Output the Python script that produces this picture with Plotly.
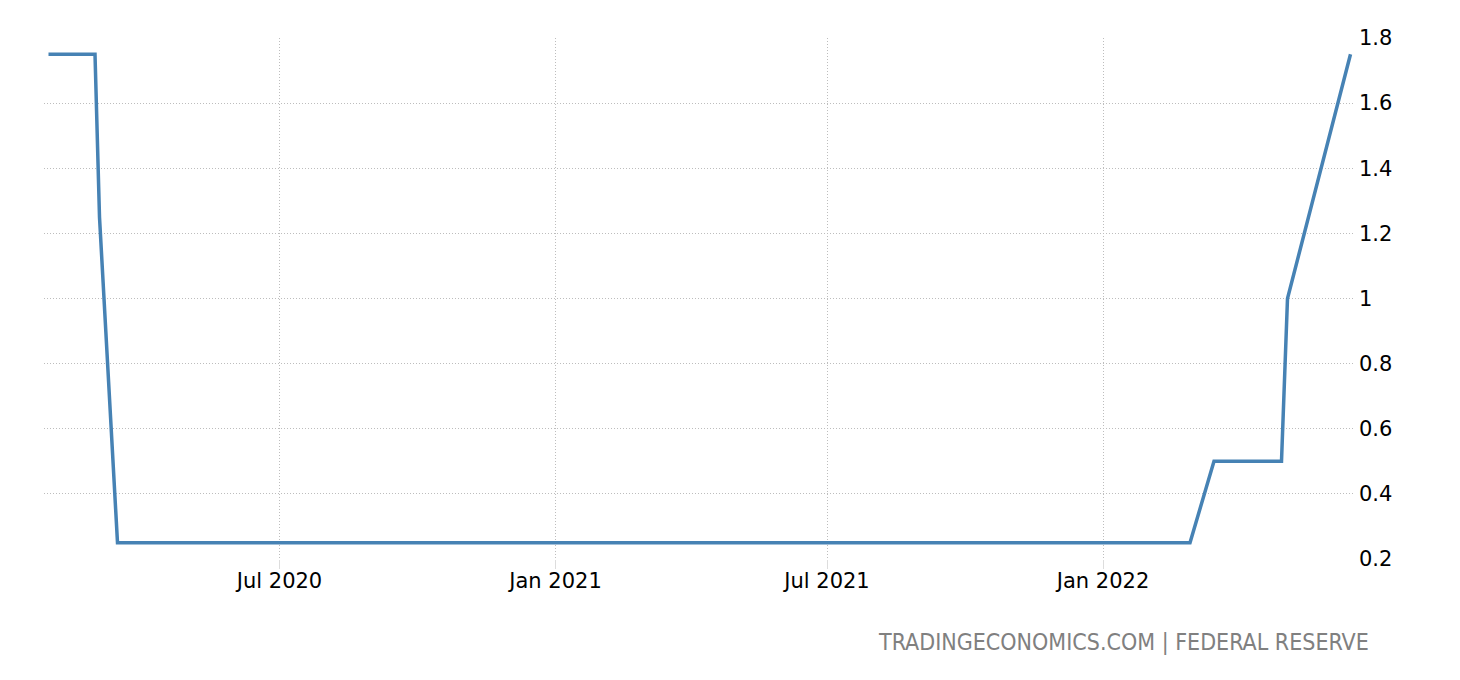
import plotly.graph_objects as go

dates = ["2020-01-29", "2020-02-29", "2020-03-03", "2020-03-15", "2022-02-28",
         "2022-03-16", "2022-04-30", "2022-05-04", "2022-06-15"]
rates = [1.75, 1.75, 1.25, 0.25, 0.25, 0.50, 0.50, 1.00, 1.75]

tick_dates = ["2020-07-01", "2021-01-01", "2021-07-01", "2022-01-01"]
tick_labels = ["Jul 2020", "Jan 2021", "Jul 2021", "Jan 2022"]
y_ticks = [0.2, 0.4, 0.6, 0.8, 1.0, 1.2, 1.4, 1.6, 1.8]
y_labels = ["0.2", "0.4", "0.6", "0.8", "1", "1.2", "1.4", "1.6", "1.8"]
source = "TRADINGECONOMICS.COM | FEDERAL RESERVE"

# page body has an 8px margin; the figure is sized/offset for it
W, H = 1452, 672
L, T, R, B = 36, 30, 105, 121
plot_w = W - L - R
plot_h = H - T - B

fig = go.Figure()
fig.add_trace(go.Scatter(x=dates, y=rates, mode="lines",
                         line=dict(color="#4682b4", width=3.5),
                         hoverinfo="x+y"))

fig.update_layout(
    width=W, height=H,
    margin=dict(l=L, r=R, t=T, b=B),
    paper_bgcolor="white", plot_bgcolor="white",
    showlegend=False,
    font=dict(family="DejaVu Sans", size=21, color="#000000"),
    xaxis=dict(
        type="date",
        range=["2020-01-26", "2022-06-18"],
        tickmode="array", tickvals=tick_dates, ticktext=tick_labels,
        showgrid=True, gridcolor="#bdbdbd", griddash="1px,2px", gridwidth=1,
        ticks="outside", ticklen=9, tickcolor="#dddddd", tickwidth=1,
        ticklabelstandoff=-6,
        showline=False, zeroline=False,
        tickfont=dict(family="DejaVu Sans", size=21, color="#000000"),
    ),
    yaxis=dict(
        side="right",
        range=[0.2, 1.8],
        tickmode="array", tickvals=y_ticks, ticktext=y_labels,
        showgrid=True, gridcolor="#bdbdbd", griddash="1px,2px", gridwidth=1,
        showline=False, zeroline=False, ticks="",
        ticklabelstandoff=3,
        tickfont=dict(family="DejaVu Sans", size=21, color="#000000"),
    ),
    annotations=[dict(
        text=source, xref="paper", yref="paper",
        x=(1371 - 8 - L) / plot_w, y=-(642 - 559) / plot_h,
        xanchor="right", yanchor="middle", showarrow=False,
        font=dict(family="DejaVu Sans Condensed", size=23, color="#808080"),
    )],
)

fig.write_html("out.html")
